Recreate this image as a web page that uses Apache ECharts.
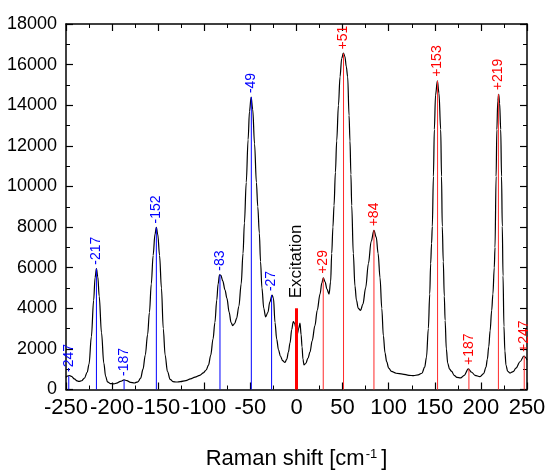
<!DOCTYPE html>
<html>
<head>
<meta charset="utf-8">
<script src="https://cdn.jsdelivr.net/npm/echarts@6/dist/echarts.min.js"></script>
<style>html,body{margin:0;padding:0;background:#fff;}#c{width:549px;height:475px;}</style>
</head>
<body>
<div id="c"></div>
<script>
// Spectrum trace (Raman shift, intensity)
const specX = [-250,-248.5,-246,-244,-241,-238,-236,-233,-230,-227,-225,-222.5,-220,-218.5,-217,-215.5,-214,-211.5,-209,-207,-205,-202,-198,-195,-191,-187,-184,-180,-176,-172,-169,-166.5,-164,-161.5,-159.5,-157.5,-155.5,-153.5,-152,-150.5,-148.5,-146.5,-144.5,-142.5,-140,-137,-134,-130,-126,-120,-115,-110,-105,-101,-98,-95.5,-93,-90.5,-88.5,-86.5,-85,-83.5,-82,-80,-77.5,-75.5,-73,-71,-69.2,-67,-65,-62.5,-60,-58,-56.5,-54.5,-52.5,-51,-49.2,-47.5,-45.5,-43.5,-42,-40.3,-39,-37.5,-35.5,-33.5,-31,-29,-26.5,-25,-23.3,-21.5,-19.5,-17.5,-15,-12.5,-10.5,-8.8,-7,-5.2,-3.5,-2,-0.5,0.9,2.3,3.8,5,6,7,8.1,10,12.5,14.6,17,20,22.5,25.5,27.5,29.1,31,33,35.3,37,38.2,39.5,40.7,42.2,43.6,45.5,47.2,49,50.8,52.5,54,55.5,57,58,59,59.9,61.6,63.4,65,67,69.5,72,75,78,81,84,86.5,88.5,90.6,92.5,94.2,96,97.8,100,103,108,115,122,127,132,136,139,141,143,144.5,145.5,146.5,147.3,148.5,149.5,150.8,152.8,154.5,156.4,157.3,158.1,159.2,160.3,161.2,162.5,164,166,168.3,171,174,178,182,186.3,190,193.6,199,203,205.5,207,208.5,210,211.7,213,214.5,215.3,216.5,217.3,218.3,219.3,220.3,221.5,222.4,223.2,224,225,226,227.2,229,231.6,235,238,242.4,246.7,249,250];
const specY = [600,660,690,650,520,420,400,430,560,850,1250,2600,4400,5500,5950,5550,4600,2800,1300,650,380,290,280,310,400,470,440,350,320,380,560,1000,1700,2700,3800,5200,6600,7650,7980,7650,6600,5000,3000,1700,900,500,390,370,390,440,520,610,700,820,960,1200,1700,2500,3300,4400,5200,5650,5620,5350,4900,4500,3800,3300,3150,3250,3500,4100,5200,6700,8200,10200,12300,13700,14400,13800,12100,10200,9000,7700,6300,5000,4000,3580,3800,4300,4650,4500,3300,2480,1950,1650,1420,1330,1500,1840,2300,2950,3350,3250,3000,2720,3000,3270,2700,2100,1500,1210,1280,1550,1840,2400,3150,3900,4700,5250,5500,5300,4950,4700,5300,6700,8000,9060,10700,12240,14000,15400,16300,16570,16400,15900,15400,13500,12240,10600,9060,6700,5100,4400,4000,3900,4200,5000,6200,7300,7840,7500,6700,5500,4000,2650,1800,1370,1050,890,800,760,700,680,720,800,1100,1600,3000,4700,6200,7200,8030,10500,12800,14500,15200,14600,12800,10500,8030,6300,4600,3400,2000,1300,1000,890,700,600,570,700,1015,850,700,630,780,1100,1500,2100,2900,3900,4700,6000,7000,10500,12800,14200,14540,14100,12800,10500,8030,5600,3110,1900,1206,900,810,880,1050,1366,1650,1550,1450];

// Anti-Stokes (blue) and Stokes (red) assigned lines
const blueX = [-247,-217,-187,-152,-83,-49,-27];
const blueY = [670,5950,470,7980,5650,14400,4650];
const blueLabels = ['-247','-217','-187','-152','-83','-49','-27'];
const redX = [29,51,84,153,187,219,247];
const redY = [5500,16550,7840,15200,1015,14540,1650];
const redLabels = ['+29','+51','+84','+153','+187','+219','+247'];
const excitationX = [0];
const excitationY = [4000];
const excitationLabels = ['Excitation'];

const xTicks = {min:-250, max:250, interval:50};
const yTicks = {min:0, max:18000, interval:2000};

const FONT = 'Liberation Sans, Arial, Helvetica, sans-serif';

function stickSeries(xs, ys, labels, lineColor, textColor, lineWidth, fontSize, gap) {
  return {
    type: 'custom',
    xAxisIndex: 0, yAxisIndex: 0,
    z: 5,
    silent: true,
    data: xs.map((x, i) => [x, ys[i], i]),
    renderItem: function (params, api) {
      const x = api.value(0), y = api.value(1), idx = api.value(2);
      const p0 = api.coord([x, 0]);
      const p1 = api.coord([x, y]);
      return {
        type: 'group',
        children: [
          {type: 'line', shape: {x1: p0[0], y1: p0[1], x2: p1[0], y2: p1[1]},
           style: {stroke: lineColor, lineWidth: lineWidth}},
          {type: 'text', x: p1[0], y: p1[1] - gap, rotation: Math.PI / 2,
           style: {text: labels[idx], fill: textColor, fontSize: fontSize, fontFamily: FONT,
                   align: 'left', verticalAlign: 'middle'}}
        ]
      };
    }
  };
}

const axisLineStyle = {color: '#000', width: 1.5};
function xAxisDef(pos, show) {
  return {
    type: 'value', position: pos, min: xTicks.min, max: xTicks.max, interval: xTicks.interval,
    axisLine: {show: true, onZero: false, lineStyle: axisLineStyle},
    axisTick: {show: true, inside: true, length: 7, lineStyle: {color: '#000', width: 1.2}},
    minorTick: {show: true, splitNumber: 2, length: 4, lineStyle: {color: '#000', width: 1}},
    splitLine: {show: false}, minorSplitLine: {show: false},
    axisLabel: {show: show, fontSize: 22, color: '#000', fontFamily: FONT, margin: 7,
                showMinLabel: true, showMaxLabel: true, formatter: v => String(v)},
    name: show ? 'Raman shift [cm{sup|-1}]' : '',
    nameLocation: 'middle', nameGap: 58,
    nameTextStyle: {fontSize: 22, color: '#000', fontFamily: FONT,
      rich: {sup: {fontSize: 13, color: '#000', fontFamily: FONT, verticalAlign: 'top', padding: [0, 4, 10, 1]}}}
  };
}
function yAxisDef(pos, show) {
  return {
    type: 'value', position: pos, min: yTicks.min, max: yTicks.max, interval: yTicks.interval,
    axisLine: {show: true, onZero: false, lineStyle: axisLineStyle},
    axisTick: {show: true, inside: true, length: 7, lineStyle: {color: '#000', width: 1.2}},
    minorTick: {show: true, splitNumber: 2, length: 4, lineStyle: {color: '#000', width: 1}},
    splitLine: {show: false}, minorSplitLine: {show: false},
    axisLabel: {show: show, fontSize: 18, color: '#000', fontFamily: FONT, margin: 9,
                showMinLabel: true, showMaxLabel: true, formatter: v => String(v)}
  };
}

const chart = echarts.init(document.getElementById('c'), null, {renderer: 'canvas'});
chart.setOption({
  animation: false,
  backgroundColor: '#fff',
  grid: {left: 66, right: 22, top: 24, bottom: 73, containLabel: false},
  xAxis: [xAxisDef('bottom', true), xAxisDef('top', false)],
  yAxis: [yAxisDef('left', true), yAxisDef('right', false)],
  series: [
    {
      type: 'line', xAxisIndex: 0, yAxisIndex: 0,
      data: specX.map((x, i) => [x, specY[i]]),
      showSymbol: false, symbol: 'none', smooth: 0.35, smoothMonotone: 'x',
      lineStyle: {color: '#000', width: 1.2}, z: 3, silent: true
    },
    stickSeries(blueX, blueY, blueLabels, '#0000ff', '#0000ff', 1, 14, 4),
    stickSeries(redX, redY, redLabels, '#ff2a2a', '#ff0000', 1, 14, 4),
    stickSeries(excitationX, excitationY, excitationLabels, '#ff0000', '#000', 3, 17, 10)
  ]
});
</script>
</body>
</html>
